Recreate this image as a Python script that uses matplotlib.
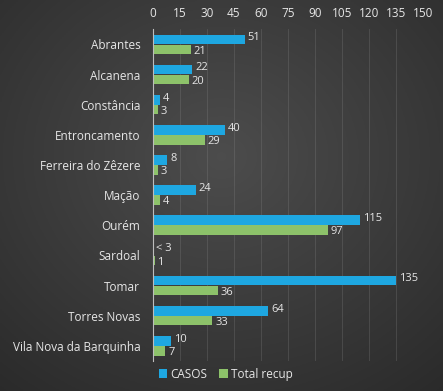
import numpy as np
import matplotlib.pyplot as plt

# data
municipios = ['Abrantes', 'Alcanena', 'Constância', 'Entroncamento', 'Ferreira do Zêzere',
              'Mação', 'Ourém', 'Sardoal', 'Tomar', 'Torres Novas', 'Vila Nova da Barquinha']
casos = [51, 22, 4, 40, 8, 24, 115, 0, 135, 64, 10]
casos_labels = ['51', '22', '4', '40', '8', '24', '115', '< 3', '135', '64', '10']
recup = [21, 20, 3, 29, 3, 4, 97, 1, 36, 33, 7]
xticks = np.arange(0, 151, 15)

blue = '#1ea7e1'
green = '#8dc26a'
txt = '#e6e6e6'

plt.rcParams['font.family'] = ['Open Sans', 'DejaVu Sans']

fig = plt.figure(figsize=(4.43, 3.91), dpi=100)

# radial gradient background
bg = fig.add_axes([0, 0, 1, 1])
yy, xx = np.mgrid[-1:1:200j, -1:1:220j]
r = np.sqrt(xx**2 + (yy + 0.2)**2)
g = np.clip(0.30 - 0.085 * r, 0, 1)
bg.imshow(np.dstack([g, g, g]), aspect='auto', extent=[0, 1, 0, 1])
bg.axis('off')

ax = fig.add_axes([0.345, 0.077, 0.61, 0.848])
ax.patch.set_alpha(0)

y = np.arange(len(municipios))
h = 0.32
ax.barh(y - 0.165, casos, height=h, color=blue, label='CASOS')
ax.barh(y + 0.165, recup, height=h, color=green, label='Total recup')

fs = 8.5
for i in range(len(municipios)):
    ax.annotate(casos_labels[i], (casos[i], y[i] - 0.165), xytext=(2, 1.2), textcoords='offset points',
                va='center', ha='left', color=txt, fontsize=8)
    ax.annotate(str(recup[i]), (recup[i], y[i] + 0.165), xytext=(2, -1.2), textcoords='offset points',
                va='center', ha='left', color=txt, fontsize=8)

ax.set_xlim(0, 150)
ax.set_ylim(len(municipios) - 0.5, -0.5)
ax.set_xticks(xticks)
ax.xaxis.tick_top()
ax.set_yticks(y)
ax.set_yticklabels(municipios)
ax.tick_params(axis='both', length=0, colors=txt, labelsize=fs)
ax.tick_params(axis='y', pad=9)
ax.tick_params(axis='x', pad=7)
ax.grid(axis='x', color='#8a8a8a', alpha=0.3, linewidth=0.6)
ax.set_axisbelow(True)
for s in ['top', 'right', 'bottom']:
    ax.spines[s].set_visible(False)
ax.spines['left'].set_color('#bdbdbd')
ax.spines['left'].set_linewidth(0.8)

leg = fig.legend(loc='center', bbox_to_anchor=(0.51, 0.043), ncol=2, frameon=False,
                 fontsize=fs, handlelength=0.7, handleheight=0.7, handletextpad=0.3,
                 columnspacing=1.0)
for t in leg.get_texts():
    t.set_color(txt)

fig.savefig('out.png', dpi=100)
